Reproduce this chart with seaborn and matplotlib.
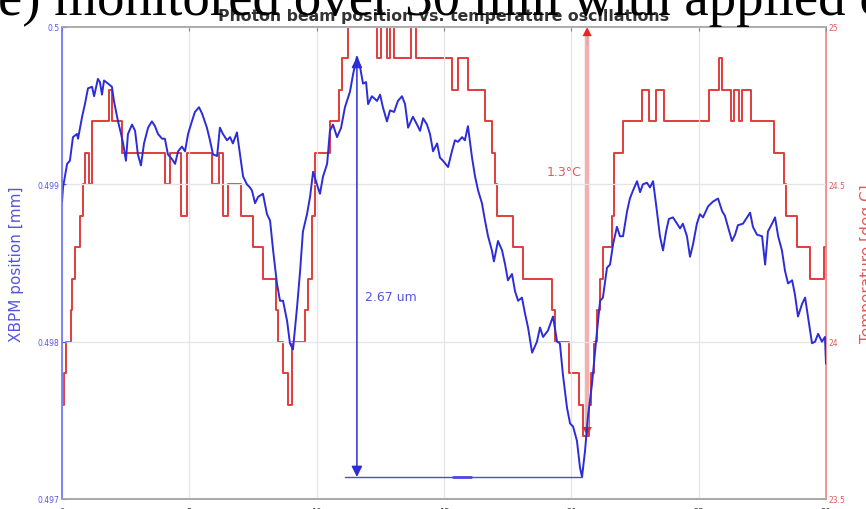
import numpy as np
import pandas as pd
import matplotlib
matplotlib.use("Agg")
import matplotlib.pyplot as plt
import seaborn as sns

# ---- data -----------------------------------------------------------------
# XBPM beam position (mm) sampled over the 30 min run
time_min = [
    0.00, 0.04, 0.20, 0.31, 0.43, 0.59, 0.63, 0.79, 0.90, 1.02, 1.18, 1.26, 1.41, 1.49, 1.57,
    1.65, 1.81, 1.96, 2.04, 2.20, 2.32, 2.40, 2.51, 2.59, 2.75, 2.87, 2.98, 3.10, 3.22, 3.38,
    3.53, 3.65, 3.77, 3.93, 4.04, 4.16, 4.32, 4.44, 4.56, 4.71, 4.83, 4.95, 5.10, 5.22, 5.38,
    5.50, 5.69, 5.81, 5.93, 6.09, 6.20, 6.32, 6.48, 6.60, 6.71, 6.87, 6.99, 7.11, 7.26, 7.38,
    7.46, 7.58, 7.70, 7.89, 8.05, 8.17, 8.29, 8.44, 8.56, 8.68, 8.84, 8.95, 9.07, 9.23, 9.35,
    9.46, 9.62, 9.74, 9.86, 10.01, 10.13, 10.25, 10.41, 10.52, 10.64, 10.80, 10.96, 11.11, 11.31, 11.43,
    11.58, 11.70, 11.82, 11.94, 12.02, 12.17, 12.37, 12.49, 12.60, 12.76, 12.88, 13.04, 13.19, 13.35, 13.47,
    13.59, 13.78, 13.94, 14.06, 14.18, 14.33, 14.45, 14.57, 14.73, 14.84, 14.96, 15.16, 15.31, 15.43, 15.55,
    15.71, 15.82, 15.94, 16.10, 16.22, 16.34, 16.49, 16.61, 16.73, 16.88, 16.96, 17.12, 17.28, 17.40, 17.51,
    17.67, 17.79, 17.91, 18.06, 18.18, 18.30, 18.46, 18.65, 18.77, 18.89, 19.08, 19.28, 19.44, 19.55, 19.67,
    19.83, 19.95, 20.07, 20.22, 20.34, 20.42, 20.54, 20.65, 20.81, 21.01, 21.13, 21.24, 21.40, 21.52, 21.64,
    21.79, 21.91, 22.03, 22.19, 22.30, 22.42, 22.58, 22.70, 22.81, 22.97, 23.09, 23.21, 23.36, 23.48, 23.60,
    23.72, 23.83, 23.99, 24.15, 24.27, 24.38, 24.54, 24.66, 24.78, 24.93, 25.05, 25.17, 25.37, 25.56, 25.76,
    25.92, 26.03, 26.15, 26.31, 26.43, 26.54, 26.74, 26.90, 27.02, 27.13, 27.29, 27.49, 27.61, 27.72, 27.88,
    28.00, 28.12, 28.27, 28.39, 28.51, 28.67, 28.78, 28.90, 29.06, 29.18, 29.29, 29.45, 29.57, 29.69, 29.84,
    29.96, 30.00,
]
xbpm_mm = [
    0.49889, 0.49898, 0.49913, 0.49915, 0.49930, 0.49932, 0.49929, 0.49943, 0.49951, 0.49961, 0.49962, 0.49956, 0.49967, 0.49965, 0.49957,
    0.49966, 0.49964, 0.49962, 0.49953, 0.49940, 0.49932, 0.49926, 0.49915, 0.49932, 0.49938, 0.49934, 0.49919, 0.49912, 0.49926, 0.49936,
    0.49940, 0.49937, 0.49932, 0.49929, 0.49929, 0.49919, 0.49916, 0.49913, 0.49921, 0.49924, 0.49921, 0.49932, 0.49940, 0.49946, 0.49949,
    0.49945, 0.49936, 0.49928, 0.49919, 0.49918, 0.49936, 0.49932, 0.49928, 0.49930, 0.49926, 0.49933, 0.49919, 0.49905, 0.49900, 0.49898,
    0.49896, 0.49888, 0.49892, 0.49894, 0.49881, 0.49877, 0.49858, 0.49837, 0.49826, 0.49826, 0.49813, 0.49799, 0.49795, 0.49822, 0.49845,
    0.49870, 0.49881, 0.49892, 0.49908, 0.49900, 0.49894, 0.49905, 0.49913, 0.49934, 0.49938, 0.49930, 0.49936, 0.49949, 0.49959, 0.49970,
    0.49981, 0.49975, 0.49964, 0.49965, 0.49951, 0.49956, 0.49953, 0.49957, 0.49949, 0.49940, 0.49947, 0.49946, 0.49953, 0.49956, 0.49951,
    0.49936, 0.49943, 0.49938, 0.49934, 0.49942, 0.49938, 0.49932, 0.49921, 0.49926, 0.49917, 0.49915, 0.49911, 0.49921, 0.49928, 0.49927,
    0.49930, 0.49928, 0.49937, 0.49917, 0.49905, 0.49896, 0.49888, 0.49877, 0.49867, 0.49858, 0.49851, 0.49864, 0.49858, 0.49849, 0.49839,
    0.49843, 0.49832, 0.49826, 0.49828, 0.49818, 0.49809, 0.49793, 0.49800, 0.49809, 0.49803, 0.49807, 0.49816, 0.49800, 0.49799, 0.49779,
    0.49758, 0.49748, 0.49746, 0.49737, 0.49720, 0.49714, 0.49731, 0.49752, 0.49773, 0.49807, 0.49826, 0.49828, 0.49847, 0.49849, 0.49862,
    0.49873, 0.49867, 0.49867, 0.49883, 0.49891, 0.49896, 0.49902, 0.49895, 0.49900, 0.49901, 0.49898, 0.49902, 0.49883, 0.49867, 0.49858,
    0.49870, 0.49878, 0.49879, 0.49875, 0.49872, 0.49875, 0.49867, 0.49854, 0.49862, 0.49875, 0.49881, 0.49879, 0.49886, 0.49889, 0.49891,
    0.49883, 0.49880, 0.49873, 0.49864, 0.49868, 0.49874, 0.49875, 0.49879, 0.49882, 0.49873, 0.49868, 0.49867, 0.49849, 0.49870, 0.49875,
    0.49879, 0.49867, 0.49858, 0.49845, 0.49837, 0.49839, 0.49830, 0.49816, 0.49824, 0.49828, 0.49816, 0.49799, 0.49800, 0.49805, 0.49800,
    0.49803, 0.49786,
]

# Hutch temperature (deg C): each value holds from its time until the next one
temp_time_min = [
    0.00, 0.08, 0.16, 0.35, 0.39, 0.51, 0.71, 0.82, 0.90, 1.06, 1.18, 1.85, 1.96, 2.36, 4.04,
    4.24, 4.67, 4.91, 5.89, 6.16, 6.32, 6.52, 7.03, 7.50, 7.89, 8.40, 8.48, 8.68, 8.87, 9.03,
    9.54, 9.66, 9.82, 9.93, 10.52, 10.88, 10.99, 11.23, 12.37, 12.53, 12.76, 12.88, 13.04, 13.70, 13.90,
    15.31, 15.55, 15.94, 16.61, 16.88, 17.00, 17.08, 17.71, 18.10, 19.24, 19.36, 19.91, 20.30, 20.46, 20.69,
    20.77, 20.89, 21.01, 21.13, 21.24, 21.60, 21.68, 22.03, 22.78, 23.05, 23.32, 23.64, 25.41, 25.80, 25.92,
    26.27, 26.39, 26.58, 26.70, 27.06, 27.96, 28.35, 28.43, 28.86, 29.37, 29.92, 30.00,
]
temp_degc = [
    23.8, 23.9, 24.0, 24.1, 24.2, 24.3, 24.4, 24.5, 24.6, 24.5, 24.7, 24.8, 24.7, 24.6, 24.5,
    24.6, 24.4, 24.6, 24.5, 24.6, 24.4, 24.5, 24.4, 24.3, 24.2, 24.1, 24.0, 23.9, 23.8, 24.0,
    24.1, 24.2, 24.4, 24.6, 24.7, 24.8, 24.9, 25.0, 24.9, 25.0, 24.9, 25.0, 24.9, 25.0, 24.9,
    24.8, 24.9, 24.8, 24.7, 24.6, 24.5, 24.4, 24.3, 24.2, 24.1, 24.0, 23.9, 23.8, 23.7, 23.8,
    23.9, 24.0, 24.1, 24.2, 24.3, 24.4, 24.6, 24.7, 24.8, 24.7, 24.8, 24.7, 24.8, 24.9, 24.8,
    24.7, 24.8, 24.7, 24.8, 24.7, 24.6, 24.5, 24.4, 24.3, 24.2, 24.3, 24.3,
]

x_ticks = [0, 5, 10, 15, 20, 25, 30]
pos_ticks = [0.497, 0.498, 0.499, 0.5]
pos_tick_labels = ["0.497", "0.498", "0.499", "0.5"]
temp_ticks = [23.5, 24.0, 24.5, 25.0]
temp_tick_labels = ["23.5", "24", "24.5", "25"]

# temperature swing marked on the plot
temp_swing_low, temp_swing_high = 23.7, 25.0
temp_swing_time = 20.62

# ---- styling --------------------------------------------------------------
BLUE = "#2c2cd8"
BLUE_TXT = "#5656e0"
RED = "#e23c3c"
RED_TXT = "#e05a5a"
GRID = "#e4e4e8"

sns.set_style("white")
plt.rcParams["font.family"] = ["DejaVu Sans"]

fig = plt.figure(figsize=(8.66, 5.10), dpi=100)
ax = fig.add_axes([62 / 866, 10 / 510, 764 / 866, 472 / 510])
ax2 = ax.twinx()

beam = pd.DataFrame({"t": time_min, "pos": xbpm_mm})
temp = pd.DataFrame({"t": temp_time_min, "T": temp_degc})

sns.lineplot(data=temp, x="t", y="T", ax=ax2, color=RED, lw=1.4,
             drawstyle="steps-post", estimator=None, sort=False)
sns.lineplot(data=beam, x="t", y="pos", ax=ax, color=BLUE, lw=1.4,
             estimator=None, sort=False)

# draw the beam axis above the temperature axis
ax.set_zorder(ax2.get_zorder() + 1)
ax.patch.set_visible(False)

ax.set_xlim(0, 30)
ax.set_ylim(0.497, 0.5)
ax2.set_ylim(23.5, 25.0)

ax.set_xticks(x_ticks)
ax.set_xticklabels([str(v) for v in x_ticks], fontsize=6, color="#444444")
ax.set_yticks(pos_ticks)
ax.set_yticklabels(pos_tick_labels, fontsize=5.5, color=BLUE_TXT)
ax2.set_yticks(temp_ticks)
ax2.set_yticklabels(temp_tick_labels, fontsize=5.5, color=RED_TXT)

ax.grid(True, color=GRID, lw=0.9)
ax.tick_params(axis="x", direction="in", length=3, color="#888888", pad=6, top=True)
ax.tick_params(axis="y", direction="in", length=3, color=BLUE_TXT, pad=2)
ax2.tick_params(axis="y", direction="in", length=3, color=RED_TXT, pad=2)

ax.set_xlabel("")
ax.set_ylabel("XBPM position [mm]", color=BLUE_TXT, fontsize=11)
ax.yaxis.set_label_coords(-0.050, 0.5)
ax2.set_ylabel("Temperature [deg C]", color=RED_TXT, fontsize=11, rotation=90)
ax2.yaxis.set_label_coords(1.044, 0.5)

for a in (ax, ax2):
    for side in ("top", "bottom"):
        a.spines[side].set_color("#a8a8a8")
        a.spines[side].set_linewidth(1.2)
ax.spines["left"].set_color("#6f6ff0")
ax.spines["left"].set_linewidth(1.2)
ax.spines["right"].set_visible(False)
ax2.spines["left"].set_visible(False)
ax2.spines["right"].set_color("#ee7b7b")
ax2.spines["right"].set_linewidth(1.2)

# peak-to-valley span of the beam position
i_max = int(np.argmax(xbpm_mm))
i_min = int(np.argmin(xbpm_mm))
t_peak, p_peak = time_min[i_max], xbpm_mm[i_max]
t_low, p_low = time_min[i_min], xbpm_mm[i_min]
span_um = (p_peak - p_low) * 1000

ax.annotate("", xy=(t_peak, p_peak), xytext=(t_peak, p_low),
            arrowprops=dict(arrowstyle="<|-|>", color=BLUE, lw=1.1,
                            mutation_scale=16, shrinkA=0, shrinkB=0), zorder=5)
ax.plot([t_peak - 0.47, t_low], [p_low, p_low], color="#4a4ae0", lw=1.0, zorder=4)
ax.plot([15.35, 16.05], [p_low, p_low], color="#4a4ae0", lw=2.0, zorder=4)
ax.text(t_peak + 0.3, 0.49829, f"{span_um:.2f} um", color=BLUE_TXT,
        fontsize=9, va="center", ha="left")

# temperature swing marker
ax2.plot([temp_swing_time, temp_swing_time], [temp_swing_low + 0.03, temp_swing_high - 0.03],
         color="#f2b0b0", lw=3.2, zorder=3, solid_capstyle="butt")
ax2.annotate("", xy=(temp_swing_time, temp_swing_high),
             xytext=(temp_swing_time, temp_swing_high - 0.06),
             arrowprops=dict(arrowstyle="-|>", color="#ee2020", lw=0.1,
                             mutation_scale=16, shrinkA=0, shrinkB=0), zorder=6)
ax2.annotate("", xy=(temp_swing_time, temp_swing_low),
             xytext=(temp_swing_time, temp_swing_low + 0.06),
             arrowprops=dict(arrowstyle="-|>", color="#ee2020", lw=0.1,
                             mutation_scale=16, shrinkA=0, shrinkB=0), zorder=6)
ax2.text(temp_swing_time - 0.2, 24.54, f"{temp_swing_high - temp_swing_low:.1f}\u00b0C",
         color=RED_TXT, fontsize=9, va="center", ha="right")

ax.set_title("Photon beam position vs. temperature oscillations",
             fontsize=11.3, fontweight="bold", color="#333333", pad=5)

# running caption line above the panel
fig.text(-0.002, 1 - 15 / 510, "e) monitored over 30 min with applied c",
         family=["Liberation Serif"], fontsize=39.5, color="black",
         va="baseline", ha="left")

fig.savefig("out.png", dpi=100)
